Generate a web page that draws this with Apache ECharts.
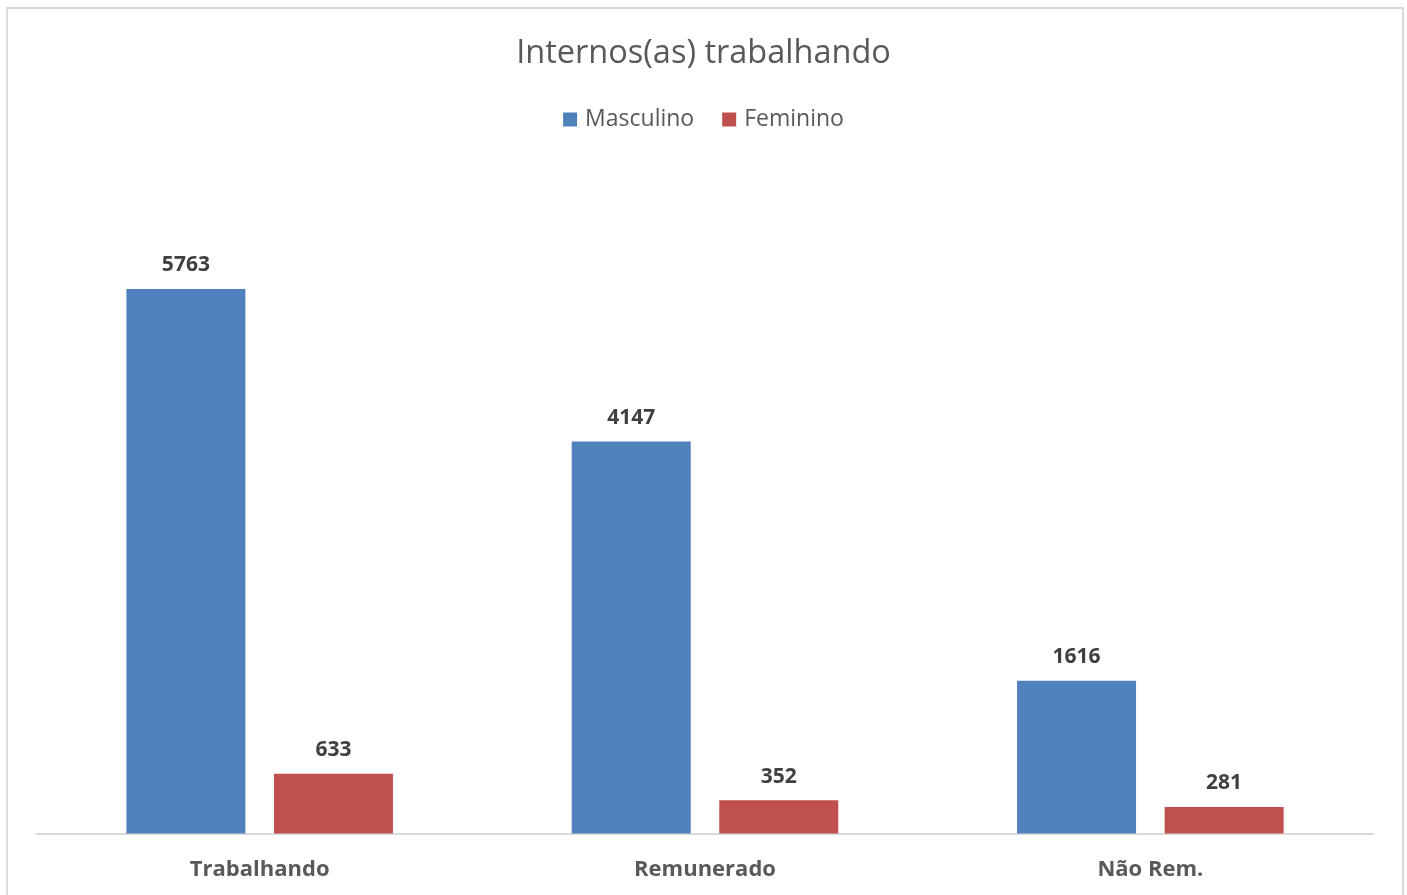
<!DOCTYPE html>
<html>
<head>
<meta charset="utf-8">
<script src="https://cdn.jsdelivr.net/npm/echarts@6/dist/echarts.min.js"></script>
<style>
  html, body { margin: 0; padding: 0; background: #fff; }
  #chart { width: 1407px; height: 895px; }
</style>
</head>
<body>
<div id="chart"></div>
<script>
// Dados
var categories = ['Trabalhando', 'Remunerado', 'Não Rem.'];
var masculino = [5763, 4147, 1616];
var feminino = [633, 352, 281];
var seriesNames = ['Masculino', 'Feminino'];

var font = '"Open Sans", sans-serif';
var chart = echarts.init(document.getElementById('chart'), '', { renderer: 'canvas' });

chart.setOption({
	animation: false,
	backgroundColor: '#ffffff',
	color: ['#4F81BD', '#C0504D'],
	title: {
		text: 'Internos(as) trabalhando',
		left: 'center',
		top: 32,
		textStyle: { fontFamily: font, fontSize: 32.5, fontWeight: 'normal', color: '#595959' }
	},
	legend: {
		data: seriesNames,
		top: 103,
		left: 'center',
		itemWidth: 14,
		itemHeight: 14,
		itemGap: 28,
		icon: 'rect',
		textStyle: { fontFamily: font, fontSize: 23, color: '#595959', padding: [0, 0, 0, 3] }
	},
	graphic: [{
		type: 'rect',
		shape: { x: 7, y: 8, width: 1396, height: 900 },
		style: { fill: 'none', stroke: '#d9d9d9', lineWidth: 2 },
		silent: true
	}],
	grid: { left: 37, right: 34, top: 172, bottom: 61.5 },
	xAxis: {
		type: 'category',
		data: categories,
		axisTick: { show: false },
		axisLine: { lineStyle: { color: '#d9d9d9', width: 2 } },
		axisLabel: { margin: 25, fontFamily: font, fontSize: 22, fontWeight: 'bold', color: '#595959' }
	},
	yAxis: {
		type: 'value',
		min: 0,
		max: 7000,
		show: false,
		splitLine: { show: false }
	},
	series: [{
		name: seriesNames[0],
		type: 'bar',
		data: masculino,
		barWidth: 119,
		barGap: '24%',
		label: { show: true, position: 'top', distance: 13, fontFamily: font, fontSize: 21, fontWeight: 'bold', color: '#404040' }
	}, {
		name: seriesNames[1],
		type: 'bar',
		data: feminino,
		barWidth: 119,
		label: { show: true, position: 'top', distance: 13, fontFamily: font, fontSize: 21, fontWeight: 'bold', color: '#404040' }
	}]
});
</script>
</body>
</html>
